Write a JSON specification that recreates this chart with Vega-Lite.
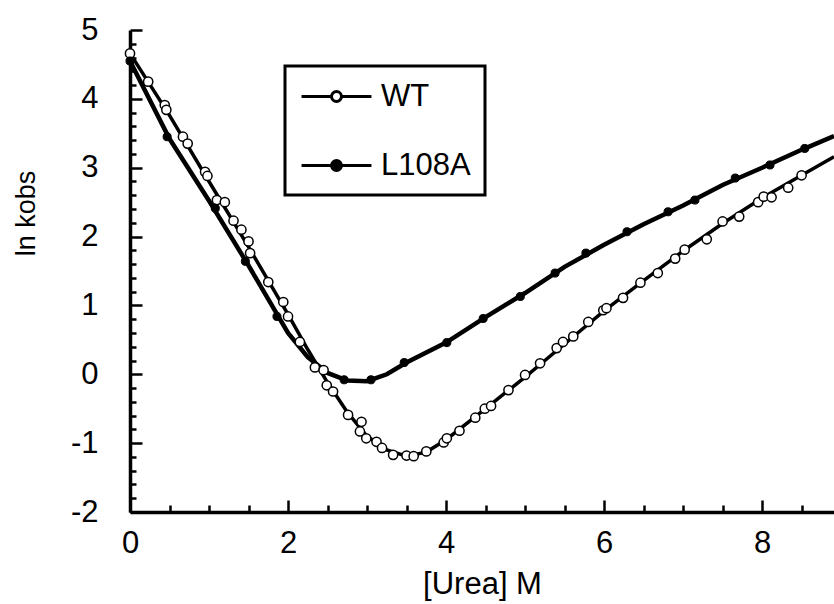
{
  "$schema": "https://vega.github.io/schema/vega-lite/v6.json",
  "autosize": {"type": "none"},
  "padding": {"left": 130, "top": 30, "right": 0, "bottom": 92},
  "width": 704,
  "height": 482,
  "background": "white",
  "config": {
    "view": {"stroke": null},
    "font": "Liberation Sans",
    "axis": {"grid": false, "domainColor": "black", "tickColor": "black", "labelColor": "black", "titleColor": "black", "labelFont": "Liberation Sans", "titleFont": "Liberation Sans", "titleFontWeight": "normal"}
  },
  "datasets": {
    "wt": [
      {"urea": 0.0, "lnk": 4.66, "series": "WT"},
      {"urea": 0.23, "lnk": 4.25, "series": "WT"},
      {"urea": 0.44, "lnk": 3.91, "series": "WT"},
      {"urea": 0.46, "lnk": 3.84, "series": "WT"},
      {"urea": 0.67, "lnk": 3.45, "series": "WT"},
      {"urea": 0.73, "lnk": 3.35, "series": "WT"},
      {"urea": 0.95, "lnk": 2.94, "series": "WT"},
      {"urea": 0.98, "lnk": 2.88, "series": "WT"},
      {"urea": 1.10, "lnk": 2.53, "series": "WT"},
      {"urea": 1.20, "lnk": 2.50, "series": "WT"},
      {"urea": 1.31, "lnk": 2.23, "series": "WT"},
      {"urea": 1.41, "lnk": 2.10, "series": "WT"},
      {"urea": 1.50, "lnk": 1.93, "series": "WT"},
      {"urea": 1.52, "lnk": 1.76, "series": "WT"},
      {"urea": 1.75, "lnk": 1.34, "series": "WT"},
      {"urea": 1.94, "lnk": 1.05, "series": "WT"},
      {"urea": 2.00, "lnk": 0.84, "series": "WT"},
      {"urea": 2.15, "lnk": 0.47, "series": "WT"},
      {"urea": 2.34, "lnk": 0.10, "series": "WT"},
      {"urea": 2.45, "lnk": 0.06, "series": "WT"},
      {"urea": 2.49, "lnk": -0.16, "series": "WT"},
      {"urea": 2.57, "lnk": -0.25, "series": "WT"},
      {"urea": 2.76, "lnk": -0.59, "series": "WT"},
      {"urea": 2.93, "lnk": -0.69, "series": "WT"},
      {"urea": 2.91, "lnk": -0.83, "series": "WT"},
      {"urea": 2.99, "lnk": -0.93, "series": "WT"},
      {"urea": 3.12, "lnk": -0.98, "series": "WT"},
      {"urea": 3.19, "lnk": -1.07, "series": "WT"},
      {"urea": 3.33, "lnk": -1.17, "series": "WT"},
      {"urea": 3.50, "lnk": -1.18, "series": "WT"},
      {"urea": 3.59, "lnk": -1.19, "series": "WT"},
      {"urea": 3.75, "lnk": -1.12, "series": "WT"},
      {"urea": 3.97, "lnk": -0.99, "series": "WT"},
      {"urea": 4.01, "lnk": -0.93, "series": "WT"},
      {"urea": 4.17, "lnk": -0.82, "series": "WT"},
      {"urea": 4.37, "lnk": -0.63, "series": "WT"},
      {"urea": 4.49, "lnk": -0.50, "series": "WT"},
      {"urea": 4.57, "lnk": -0.46, "series": "WT"},
      {"urea": 4.79, "lnk": -0.23, "series": "WT"},
      {"urea": 5.00, "lnk": -0.01, "series": "WT"},
      {"urea": 5.19, "lnk": 0.16, "series": "WT"},
      {"urea": 5.40, "lnk": 0.38, "series": "WT"},
      {"urea": 5.48, "lnk": 0.47, "series": "WT"},
      {"urea": 5.61, "lnk": 0.55, "series": "WT"},
      {"urea": 5.80, "lnk": 0.76, "series": "WT"},
      {"urea": 5.99, "lnk": 0.93, "series": "WT"},
      {"urea": 6.03, "lnk": 0.96, "series": "WT"},
      {"urea": 6.24, "lnk": 1.11, "series": "WT"},
      {"urea": 6.46, "lnk": 1.33, "series": "WT"},
      {"urea": 6.68, "lnk": 1.47, "series": "WT"},
      {"urea": 6.90, "lnk": 1.68, "series": "WT"},
      {"urea": 7.02, "lnk": 1.81, "series": "WT"},
      {"urea": 7.30, "lnk": 1.96, "series": "WT"},
      {"urea": 7.50, "lnk": 2.22, "series": "WT"},
      {"urea": 7.71, "lnk": 2.29, "series": "WT"},
      {"urea": 7.95, "lnk": 2.50, "series": "WT"},
      {"urea": 8.02, "lnk": 2.58, "series": "WT"},
      {"urea": 8.12, "lnk": 2.57, "series": "WT"},
      {"urea": 8.33, "lnk": 2.71, "series": "WT"},
      {"urea": 8.50, "lnk": 2.89, "series": "WT"}
    ],
    "wtfit": [
      {"urea": 0.0, "lnk": 4.66},
      {"urea": 0.5, "lnk": 3.76},
      {"urea": 1.0, "lnk": 2.80},
      {"urea": 1.5, "lnk": 1.85},
      {"urea": 2.0, "lnk": 0.87},
      {"urea": 2.25, "lnk": 0.36},
      {"urea": 2.5, "lnk": -0.12},
      {"urea": 2.75, "lnk": -0.55},
      {"urea": 3.0, "lnk": -0.90},
      {"urea": 3.25, "lnk": -1.10},
      {"urea": 3.5, "lnk": -1.19},
      {"urea": 3.75, "lnk": -1.13},
      {"urea": 4.0, "lnk": -0.95},
      {"urea": 4.5, "lnk": -0.50},
      {"urea": 5.0, "lnk": -0.04},
      {"urea": 5.5, "lnk": 0.44},
      {"urea": 6.0, "lnk": 0.92},
      {"urea": 6.5, "lnk": 1.36},
      {"urea": 7.0, "lnk": 1.79},
      {"urea": 7.5, "lnk": 2.19},
      {"urea": 8.0, "lnk": 2.56},
      {"urea": 8.5, "lnk": 2.89},
      {"urea": 8.91, "lnk": 3.16}
    ],
    "mut": [
      {"urea": 0.0, "lnk": 4.55, "series": "L108A"},
      {"urea": 0.47, "lnk": 3.45, "series": "L108A"},
      {"urea": 1.08, "lnk": 2.41, "series": "L108A"},
      {"urea": 1.46, "lnk": 1.64, "series": "L108A"},
      {"urea": 1.86, "lnk": 0.84, "series": "L108A"},
      {"urea": 2.71, "lnk": -0.08, "series": "L108A"},
      {"urea": 3.05, "lnk": -0.08, "series": "L108A"},
      {"urea": 3.47, "lnk": 0.17, "series": "L108A"},
      {"urea": 4.01, "lnk": 0.46, "series": "L108A"},
      {"urea": 4.47, "lnk": 0.81, "series": "L108A"},
      {"urea": 4.94, "lnk": 1.13, "series": "L108A"},
      {"urea": 5.38, "lnk": 1.47, "series": "L108A"},
      {"urea": 5.77, "lnk": 1.76, "series": "L108A"},
      {"urea": 6.29, "lnk": 2.07, "series": "L108A"},
      {"urea": 6.81, "lnk": 2.36, "series": "L108A"},
      {"urea": 7.15, "lnk": 2.53, "series": "L108A"},
      {"urea": 7.66, "lnk": 2.85, "series": "L108A"},
      {"urea": 8.10, "lnk": 3.04, "series": "L108A"},
      {"urea": 8.54, "lnk": 3.28, "series": "L108A"}
    ],
    "mutfit": [
      {"urea": 0.0, "lnk": 4.55},
      {"urea": 0.5, "lnk": 3.42},
      {"urea": 1.0, "lnk": 2.52},
      {"urea": 1.5, "lnk": 1.58},
      {"urea": 2.0, "lnk": 0.60},
      {"urea": 2.25, "lnk": 0.25},
      {"urea": 2.5, "lnk": 0.02},
      {"urea": 2.75, "lnk": -0.09},
      {"urea": 3.0, "lnk": -0.10},
      {"urea": 3.25, "lnk": 0.0},
      {"urea": 3.5, "lnk": 0.17},
      {"urea": 4.0, "lnk": 0.46},
      {"urea": 4.5, "lnk": 0.83},
      {"urea": 5.0, "lnk": 1.18},
      {"urea": 5.5, "lnk": 1.56},
      {"urea": 6.0, "lnk": 1.88},
      {"urea": 6.5, "lnk": 2.18},
      {"urea": 7.0, "lnk": 2.45},
      {"urea": 7.5, "lnk": 2.75},
      {"urea": 8.0, "lnk": 3.00},
      {"urea": 8.5, "lnk": 3.26},
      {"urea": 8.91, "lnk": 3.46}
    ]
  },
  "encoding": {
    "x": {
      "field": "urea", "type": "quantitative",
      "scale": {"domain": [0, 8.91], "nice": false, "zero": false},
      "axis": {
        "title": "[Urea] M",
        "titleFontSize": 31,
        "titlePadding": 6,
        "values": [0, 0.5, 1, 1.5, 2, 2.5, 3, 3.5, 4, 4.5, 5, 5.5, 6, 6.5, 7, 7.5, 8, 8.5],
        "labelExpr": "datum.value % 2 == 0 ? '' + datum.value : ''",
        "labelFontSize": 31,
        "labelFlush": false,
        "labelOverlap": false,
        "labelPadding": 28,
        "domainWidth": 3.5,
        "tickWidth": 2.5,
        "tickSize": {"condition": {"test": "datum.value % 2 == 0", "value": -12}, "value": -7}
      }
    },
    "y": {
      "field": "lnk", "type": "quantitative",
      "scale": {"domain": [-2, 5], "nice": false, "zero": false},
      "axis": {
        "title": "ln kobs",
        "titleFontSize": 27,
        "titleX": -96,
        "titleY": 183,
        "titleBaseline": "alphabetic",
        "values": [-2, -1.8, -1.6, -1.4, -1.2, -1, -0.8, -0.6, -0.4, -0.2, 0, 0.2, 0.4, 0.6, 0.8, 1, 1.2, 1.4, 1.6, 1.8, 2, 2.2, 2.4, 2.6, 2.8, 3, 3.2, 3.4, 3.6, 3.8, 4, 4.2, 4.4, 4.6, 4.8, 5],
        "labelExpr": "datum.value % 1 == 0 ? '' + datum.value : ''",
        "labelFontSize": 31,
        "labelFlush": false,
        "labelOverlap": false,
        "labelPadding": 44,
        "domainWidth": 3.5,
        "tickWidth": 2.5,
        "tickSize": {"condition": {"test": "datum.value % 1 == 0", "value": -12}, "value": -6}
      }
    }
  },
  "layer": [
    {
      "mark": {"type": "rule", "color": "black", "strokeWidth": 3.5},
      "encoding": {"y": {"datum": 5}, "x": null}
    },
    {
      "data": {"name": "wtfit"},
      "mark": {"type": "line", "color": "black", "strokeWidth": 3.5}
    },
    {
      "data": {"name": "mutfit"},
      "mark": {"type": "line", "color": "black", "strokeWidth": 4.5}
    },
    {
      "data": {"name": "wt"},
      "mark": {"type": "point", "shape": "circle", "filled": true, "stroke": "black", "strokeWidth": 1.5, "size": 85, "opacity": 1},
      "encoding": {
        "fill": {
          "field": "series", "type": "nominal",
          "scale": {"domain": ["WT", "L108A"], "range": ["white", "black"]},
          "legend": {
            "title": null,
            "orient": "none",
            "legendX": 155,
            "legendY": 36,
            "strokeColor": "black",
            "padding": 14,
            "symbolType": "M-0.93,0L1.07,0M1.73,0L3.73,0M1.07,0A0.33,0.33,0,1,1,1.73,0A0.33,0.33,0,1,1,1.07,0Z",
            "symbolSize": 900,
            "symbolStrokeColor": "black",
            "symbolStrokeWidth": 3,
            "symbolOpacity": 1,
            "labelFontSize": 31,
            "labelFont": "Liberation Sans",
            "labelColor": "black",
            "labelOffset": 49,
            "rowPadding": 37,
            "labelLimit": 300,
            "encode": {
              "legend": {"update": {"strokeWidth": {"value": 3}}},
              "symbols": {"update": {"stroke": {"value": "black"}, "strokeWidth": {"value": 3}, "opacity": {"value": 1}}}
            }
          }
        }
      }
    },
    {
      "data": {"name": "mut"},
      "mark": {"type": "point", "shape": "circle", "filled": true, "stroke": "black", "strokeWidth": 1, "size": 65, "opacity": 1},
      "encoding": {
        "fill": {"field": "series", "type": "nominal"}
      }
    }
  ]
}
